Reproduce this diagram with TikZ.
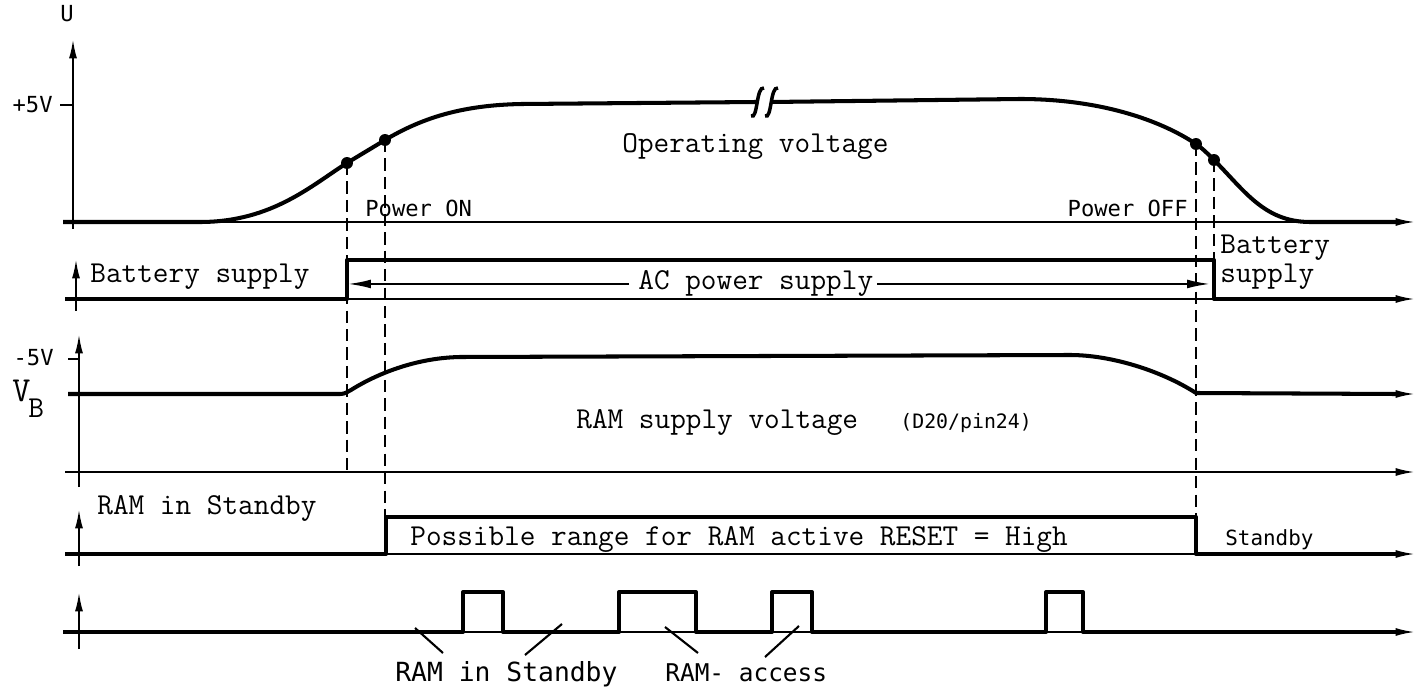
\documentclass[tikz,border=0pt]{standalone}
\usepackage{fontspec}
\newfontfamily\dinfont{DejaVu Sans Mono}
\usetikzlibrary{arrows.meta}
\begin{document}
\begin{tikzpicture}[x=0.02cm,y=-0.02cm,
  axisline/.style={line width=1.2pt,-{Latex[length=11pt,width=4.5pt]}},
  thinline/.style={line width=1.2pt},
  sig/.style={line width=2.3pt,line join=round},
  guide/.style={line width=1.1pt,dash pattern=on 7pt off 3.5pt},
  acarrow/.style={line width=1.1pt,-{Latex[length=13pt,width=5pt]}},
  tw/.style={font=\fontsize{17.3}{20}\selectfont\ttfamily,inner sep=0pt},
  din/.style={font=\fontsize{#1}{#1}\selectfont\dinfont,inner sep=0pt},
  din/.default=12.6
]
\useasboundingbox (0,0) rectangle (1423,692);

% key points on the operating voltage curve
\coordinate (d1) at (347,163);
\coordinate (d2) at (385,140);
\coordinate (d3) at (1196,144);
\coordinate (d4) at (1214,160);

% ---------- section 1: operating voltage ----------
\draw[axisline] (73,229) -- (73,39);
\draw[axisline] (63,222) -- (1415,222);
\draw[thinline] (60,105) -- (73,105);
\node[din, anchor=base west] (U) at (60,22) {U};
\node[din, anchor=base east] (p5) at (53,113) {+5V};

\draw[sig] (63,222) -- (200,222) .. controls (272,222) and (312,185) .. (d1)
  .. controls (360,155) and (372,148) .. (d2)
  .. controls (422,118) and (462,105) .. (522,104) -- (757,102);
\draw[sig] (771,102) -- (1020,99) .. controls (1100,99) and (1160,120) .. (d3)
  .. controls (1202,148) and (1208,154) .. (d4)
  .. controls (1244,190) and (1264,222) .. (1310,222) -- (1396,222);
\draw[line width=2pt] (751,116) .. controls (758,120) and (756,86) .. (764,88);
\draw[line width=2pt] (765,116) .. controls (772,120) and (770,86) .. (778,88);
\foreach \p in {d1,d2,d3,d4} \fill (\p) circle[radius=3.4pt];

\node[tw, anchor=base west] (opv) at (622,153) {Operating voltage};
\node[din, anchor=base west] (pon) at (365,217) {Power ON};
\node[din, anchor=base east] (poff) at (1188,217) {Power OFF};

% ---------- section 2: supply ----------
\draw[axisline] (76,311) -- (76,259);
\draw[axisline] (65,299) -- (1415,299);
\draw[sig] (65,299) -- (347,299) -- (347,260) -- (1214,260) -- (1214,299) -- (1396,299);
\node[tw, anchor=base west] (bat1) at (90,283) {Battery supply};
\node[tw, anchor=base west] (bat2) at (1220,254) {Battery};
\node[tw, anchor=base west] (bat3) at (1220,283) {supply};
\node[tw, anchor=base west] (ac) at (638,290) {AC power supply};
\coordinate (acL) at (348,283);
\coordinate (acR) at (1210,283);
\draw[acarrow] ([xshift=-5pt]ac.west) -- (ac.west -| acL);
\draw[acarrow] ([xshift=2pt]ac.east) -- (ac.east -| acR);

% ---------- section 3: RAM supply voltage ----------
\draw[axisline] (79,487) -- (79,334);
\draw[axisline] (65,472) -- (1415,472);
\draw[thinline] (68,359) -- (79,359);
\node[din, anchor=base east] (m5) at (54,366) {-5V};
\node[tw, font=\fontsize{20}{22}\selectfont\ttfamily, anchor=base west] (vb) at (12,401) {V};
\node[tw, anchor=base west] (vbs) at (28,418) {B};
\draw[sig] (68,394) -- (340,394) .. controls (345,394) and (347,392) .. (351,390)
  .. controls (370,378) and (410,358) .. (460,357) -- (1070,355)
  .. controls (1110,355) and (1160,370) .. (1196,393) -- (1396,394);
\draw[axisline] (1380,394) -- (1415,394);
\node[tw, anchor=base west] (rsv) at (576,428) {RAM supply voltage};
\node[din=11.3, anchor=base west] (d20) at (900,428) {(D20/pin24)};

% ---------- section 4: RAM standby / RESET ----------
\draw[axisline] (79,566) -- (79,509);
\draw[axisline] (65,554) -- (1415,554);
\draw[sig] (65,554) -- (386,554) -- (386,517) -- (1196,517) -- (1196,554) -- (1396,554);
\node[tw, anchor=base west] (ris) at (97,514) {RAM in Standby};
\node[tw, anchor=base west] (prr) at (410,545) {Possible range for RAM active RESET = High};
\node[din=11.9, anchor=base west] (sb) at (1225,545) {Standby};

% ---------- section 5: RAM access ----------
\draw[axisline] (79,649) -- (79,592);
\draw[axisline] (63,632) -- (1415,632);
\draw[sig] (63,632) -- (463,632) -- (463,592) -- (503,592) -- (503,632)
  -- (619,632) -- (619,592) -- (696,592) -- (696,632)
  -- (772,632) -- (772,592) -- (812,592) -- (812,632)
  -- (1046,632) -- (1046,592) -- (1083,592) -- (1083,632) -- (1396,632);
\node[din=15, anchor=base west] (ris2) at (395,681) {RAM in Standby};
\node[din=13.9, anchor=base west] (acc) at (665,681) {RAM- access};
\draw[thinline] (415,628) -- (443,653);
\draw[thinline] (562,624) -- (525,655);
\draw[thinline] (665,627) -- (698,653);
\draw[thinline] (799,626) -- (765,657);

% ---------- guide lines ----------
\draw[guide] (d1) -- (347,472);
\draw[guide] (d2) -- (385,517);
\draw[guide] (d3) -- (1196,517);
\draw[guide] (d4) -- (1214,260);
\end{tikzpicture}
\end{document}
